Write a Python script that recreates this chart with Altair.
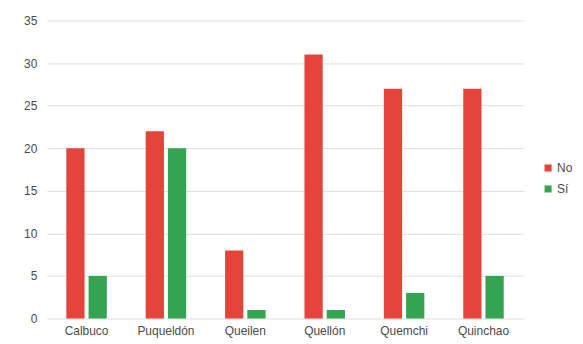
import altair as alt
import pandas as pd

comunas = ["Calbuco", "Puqueldón", "Queilen", "Quellón", "Quemchi", "Quinchao"]
no_vals = [20, 22, 8, 31, 27, 27]
si_vals = [5, 20, 1, 1, 3, 5]
series = ["No", "Sí"]
colors = ["#E5443A", "#35A452"]

rows = []
for c, n, s in zip(comunas, no_vals, si_vals):
    rows.append({"comuna": c, "serie": "No", "valor": n})
    rows.append({"comuna": c, "serie": "Sí", "valor": s})
df = pd.DataFrame(rows)

chart = alt.Chart(df).mark_bar().encode(
    x=alt.X("comuna:N", sort=comunas, title=None,
            scale=alt.Scale(paddingInner=0.49, paddingOuter=0.245),
            axis=alt.Axis(labelAngle=0, labelFontSize=12, labelColor="#4a4a4a",
                          labelFont="Liberation Sans", domain=False, ticks=False,
                          labelPadding=7, grid=False)),
    xOffset=alt.XOffset("serie:N", sort=series, scale=alt.Scale(paddingInner=0.18)),
    y=alt.Y("valor:Q", title=None,
            scale=alt.Scale(domain=[0, 35], nice=False),
            axis=alt.Axis(values=[0, 5, 10, 15, 20, 25, 30, 35], labelFontSize=12,
                          labelColor="#4a4a4a", labelFont="Liberation Sans",
                          domain=False, ticks=False, labelPadding=10,
                          gridColor="#dddddd", gridWidth=1)),
    color=alt.Color("serie:N", sort=series, title=None,
                    scale=alt.Scale(domain=series, range=colors),
                    legend=alt.Legend(orient="none", legendX=497, legendY=142,
                                      symbolType="square", symbolSize=50,
                                      symbolStrokeWidth=0,
                                      labelFontSize=12, labelColor="#4a4a4a",
                                      labelFont="Liberation Sans",
                                      rowPadding=9, labelOffset=3)),
).properties(
    width=478, height=299,
    background="white",
    autosize=alt.AutoSizeParams(type="none"),
    padding={"left": 39, "top": 12, "right": 52, "bottom": 25},
).configure_view(strokeWidth=0)

chart.save("out.html", embed_options={"renderer": "svg", "actions": False})
